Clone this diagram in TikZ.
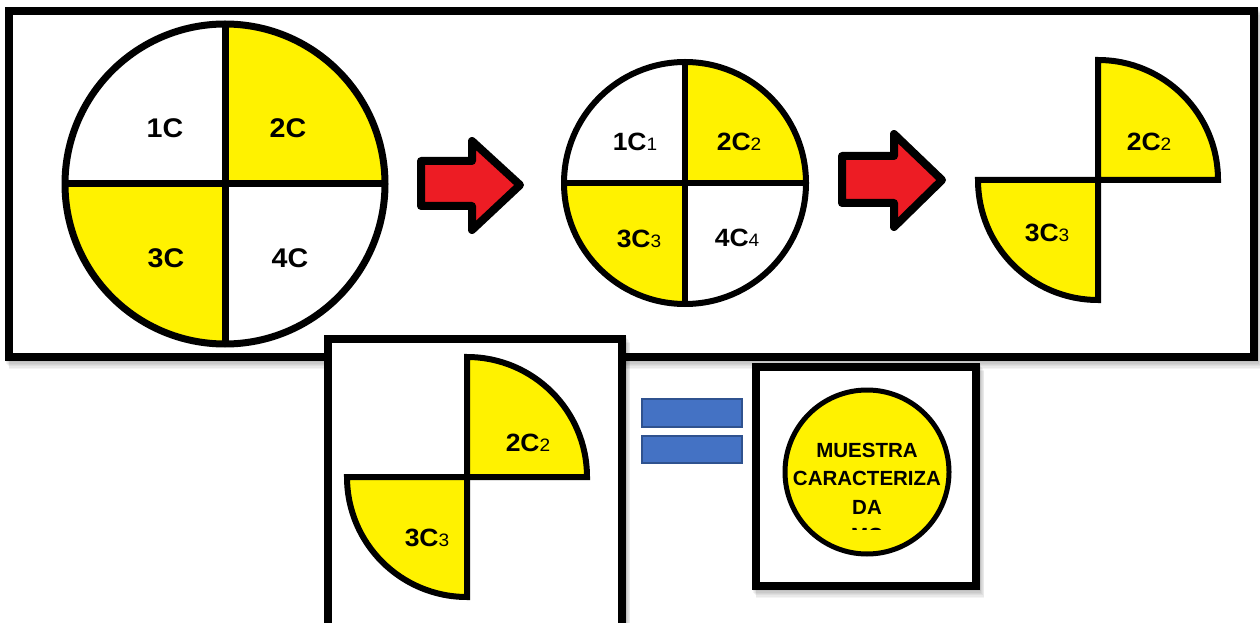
\documentclass[tikz,border=0pt]{standalone}
\usepackage{fontspec}
\setmainfont{Liberation Sans}
\newfontfamily\labfont[FakeStretch=1.06]{Liberation Sans}
\definecolor{qyellow}{RGB}{255,242,0}
\definecolor{qred}{RGB}{237,28,36}
\definecolor{qblue}{RGB}{68,114,196}
\definecolor{qblueedge}{RGB}{47,82,143}
\newcommand\qlab[2]{{\labfont\fontsize{25}{25}\selectfont\bfseries #1}{\labfont\fontsize{18}{18}\selectfont #2}}
\newcommand\qshadow[4]{\foreach \k in {1,...,6}{\fill[black,opacity=0.045] (#1+\k*0.7,#2-\k*1.3) rectangle (#3+\k*0.7,#4-\k*1.3);}}
\tikzset{
  frame/.style={draw=black, line width=8pt, fill=white, line join=miter},
  quadline/.style={draw=black, line width=6pt},
  quadshape/.style={draw=black, fill=qyellow, line width=6pt, line join=miter},
  biglab/.style={inner sep=0pt, font=\labfont\fontsize{27}{27}\selectfont\bfseries},
  sublab/.style={inner sep=0pt},
  bigarrow/.style={draw=black, fill=qred, line width=8pt, line join=round},
  eqbar/.style={fill=qblue, draw=qblueedge, line width=2pt},
  mtext/.style={inner sep=0pt, font=\fontsize{20.5}{20.5}\selectfont\bfseries}
}
\begin{document}
\begin{tikzpicture}[x=1pt,y=1pt]
\clip (0,0) rectangle (1260,622);
\fill[white] (0,0) rectangle (1260,622);

% top frame
\qshadow{5}{615}{1258}{261}
\draw[frame] (9,611) rectangle (1254,265);

% big circle
\coordinate (bc) at (225,438);
\fill[qyellow] (bc) -- ++(0,160) arc[start angle=90,end angle=0,radius=160] -- cycle;
\fill[qyellow] (bc) -- ++(-160,0) arc[start angle=180,end angle=270,radius=160] -- cycle;
\draw[line width=7pt] (bc) circle[radius=160];
\draw[line width=7pt] (225,598) -- (225,278);
\draw[line width=7pt] (65,438) -- (385,438);
\node[biglab] (b1) at (165,494) {1C};
\node[biglab] (b2) at (288,494) {2C};
\node[biglab] (b3) at (166,364) {3C};
\node[biglab] (b4) at (290,364) {4C};

% arrow 1
\draw[bigarrow] (421,461) -- (472,461) -- (472,481) -- (520,437) -- (472,392) -- (472,416) -- (421,416) -- cycle;

% middle circle
\coordinate (mc) at (685,439);
\fill[qyellow] (mc) -- ++(0,121) arc[start angle=90,end angle=0,radius=121] -- cycle;
\fill[qyellow] (mc) -- ++(-121,0) arc[start angle=180,end angle=270,radius=121] -- cycle;
\draw[quadline] (mc) circle[radius=121];
\draw[quadline] (685,560) -- (685,318);
\draw[quadline] (564,439) -- (806,439);
\node[sublab] (m1) at (635,480) {\qlab{1C}{1}};
\node[sublab] (m2) at (739,480) {\qlab{2C}{2}};
\node[sublab] (m3) at (639,383) {\qlab{3C}{3}};
\node[sublab] (m4) at (737,384) {\qlab{4C}{4}};

% arrow 2
\draw[bigarrow] (842,466) -- (894,466) -- (894,488) -- (942,442) -- (894,395) -- (894,419) -- (842,419) -- cycle;

% top-right pair
\coordinate (rc) at (1098,442);
\draw[quadshape] (rc) -- ++(0,120) arc[start angle=90,end angle=0,radius=120] -- cycle;
\draw[quadshape] (rc) -- ++(-120,0) arc[start angle=180,end angle=270,radius=120] -- cycle;
\node[sublab] (r2) at (1149,480) {\qlab{2C}{2}};
\node[sublab] (r3) at (1047,389) {\qlab{3C}{3}};

% bottom-left frame
\qshadow{324}{287}{626}{-30}
\draw[frame] (328,283) rectangle (622,-26);
\coordinate (lc) at (467,145);
\draw[quadshape] (lc) -- ++(0,120) arc[start angle=90,end angle=0,radius=120] -- cycle;
\draw[quadshape] (lc) -- ++(-120,0) arc[start angle=180,end angle=270,radius=120] -- cycle;
\node[sublab] (l2) at (528,179) {\qlab{2C}{2}};
\node[sublab] (l3) at (427,84) {\qlab{3C}{3}};

% equal sign
\draw[eqbar] (642,223) rectangle (742,195);
\draw[eqbar] (642,186) rectangle (742,159);

% bottom-right frame
\qshadow{752}{259}{980}{32}
\draw[frame] (756,255) rectangle (976,36);
\draw[fill=qyellow, line width=5pt] (867,150) circle[radius=82];
\begin{scope}
\clip (780,93) rectangle (955,240);
\node[mtext] (t1) at (867,172) {MUESTRA};
\node[mtext] (t2) at (867,144) {CARACTERIZA};
\node[mtext] (t3) at (867,115) {DA};
\node[mtext] (t4) at (867,86.5) {MC};
\end{scope}
\end{tikzpicture}
\end{document}
